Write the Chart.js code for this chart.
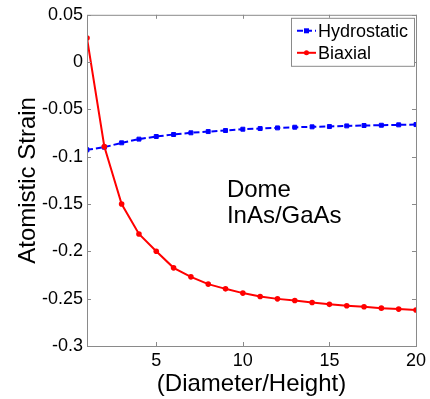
<!DOCTYPE html>
<html>
<head>
<meta charset="utf-8">
<script src="https://cdn.jsdelivr.net/npm/chart.js@4/dist/chart.umd.min.js"></script>
<style>
  html, body { margin: 0; padding: 0; background: #fff; }
  #wrap { width: 430px; height: 399px; position: relative; }
</style>
</head>
<body>
<div id="wrap"><canvas id="c" width="430" height="399"></canvas></div>
<script>
// values
const diameterRatio = [1, 2, 3, 4, 5, 6, 7, 8, 9, 10, 11, 12, 13, 14, 15, 16, 17, 18, 19, 20];
const hydrostatic = [-0.0927, -0.0899, -0.0853, -0.0814, -0.0786, -0.0765, -0.0747, -0.0734, -0.0723, -0.0709,
                     -0.0702, -0.0695, -0.0688, -0.0684, -0.0681, -0.0674, -0.0670, -0.0667, -0.0663, -0.0660];
const biaxial = [0.0254, -0.0891, -0.1500, -0.1816, -0.1998, -0.2174, -0.2269, -0.2346, -0.2396, -0.2441,
                 -0.2477, -0.2502, -0.2519, -0.2540, -0.2560, -0.2575, -0.2586, -0.2600, -0.2610, -0.2620];
const xTicks = [5, 10, 15, 20];
const yTicks = [0.05, 0, -0.05, -0.1, -0.15, -0.2, -0.25, -0.3];
const noteLines = ["Dome", "InAs/GaAs"];

const FONT = "'Liberation Sans', Arial, sans-serif";
const AXIS_GREY = "#8a8a8a";

const pts = (ys) => ys.map((y, i) => ({ x: diameterRatio[i], y }));

// frame box + inward ticks (matlab-ish axes)
const frame = {
  id: "frame",
  afterDatasetsDraw(chart) {
    const { ctx, chartArea: a, scales: { x, y } } = chart;
    ctx.save();
    ctx.strokeStyle = AXIS_GREY;
    ctx.lineWidth = 1;
    ctx.strokeRect(a.left + 0.5, a.top + 0.5, a.right - a.left, a.bottom - a.top);
    ctx.beginPath();
    for (const t of xTicks) {
      const px = Math.round(x.getPixelForValue(t)) + 0.5;
      ctx.moveTo(px, a.bottom); ctx.lineTo(px, a.bottom - 4);
      ctx.moveTo(px, a.top); ctx.lineTo(px, a.top + 4);
    }
    for (const t of yTicks) {
      const py = Math.round(y.getPixelForValue(t)) + 0.5;
      ctx.moveTo(a.left, py); ctx.lineTo(a.left + 4, py);
      ctx.moveTo(a.right, py); ctx.lineTo(a.right - 4, py);
    }
    ctx.stroke();
    ctx.restore();
  }
};

// legend box inside the axes, top right
const boxLegend = {
  id: "boxLegend",
  afterDraw(chart) {
    const { ctx, chartArea: a } = chart;
    const w = 123, h = 48;
    const bx = a.right - w - 2, by = a.top + 3;
    ctx.save();
    ctx.fillStyle = "#fff";
    ctx.fillRect(bx, by, w, h);
    ctx.strokeStyle = AXIS_GREY;
    ctx.lineWidth = 1;
    ctx.strokeRect(bx + 0.5, by + 0.5, w, h);
    ctx.font = "18px " + FONT;
    ctx.textBaseline = "middle";
    chart.data.datasets.forEach((ds, i) => {
      const cy = by + 13 + i * 22;
      const x0 = bx + 6, x1 = bx + 25;
      ctx.strokeStyle = ds.borderColor;
      ctx.lineWidth = 2;
      ctx.setLineDash(ds.borderDash || []);
      ctx.beginPath(); ctx.moveTo(x0, cy); ctx.lineTo(x1, cy); ctx.stroke();
      ctx.setLineDash([]);
      ctx.fillStyle = ds.borderColor;
      const mx = (x0 + x1) / 2;
      if (ds.pointStyle === "rect") ctx.fillRect(mx - 2.5, cy - 2.5, 5, 5);
      else { ctx.beginPath(); ctx.arc(mx, cy, 2.5, 0, Math.PI * 2); ctx.fill(); }
      ctx.fillStyle = "#000";
      ctx.fillText(ds.label, x1 + 2, cy + 1);
    });
    ctx.restore();
  }
};

// "Dome / InAs/GaAs" note, placed in data coordinates
const note = {
  id: "note",
  afterDraw(chart) {
    const { ctx, scales: { x, y } } = chart;
    ctx.save();
    ctx.font = "24px " + FONT;
    ctx.fillStyle = "#000";
    ctx.textBaseline = "alphabetic";
    const px = x.getPixelForValue(9.08);
    ctx.fillText(noteLines[0], px, y.getPixelForValue(-0.143));
    ctx.fillText(noteLines[1], px, y.getPixelForValue(-0.1705));
    ctx.restore();
  }
};

new Chart(document.getElementById("c"), {
  type: "line",
  data: {
    datasets: [
      {
        label: "Hydrostatic",
        data: pts(hydrostatic),
        borderColor: "#0000ff",
        backgroundColor: "#0000ff",
        borderWidth: 2,
        borderDash: [6, 3],
        pointStyle: "rect",
        pointRadius: 2.8,
        pointBorderWidth: 1,
        tension: 0,
        order: 2
      },
      {
        label: "Biaxial",
        data: pts(biaxial),
        borderColor: "#ff0000",
        backgroundColor: "#ff0000",
        borderWidth: 2,
        pointStyle: "circle",
        pointRadius: 2.8,
        pointBorderWidth: 0,
        tension: 0,
        order: 1
      }
    ]
  },
  options: {
    responsive: false,
    animation: false,
    layout: { padding: { left: 0, right: 11, top: 14, bottom: 0 } },
    plugins: { legend: { display: false }, tooltip: { enabled: false } },
    scales: {
      x: {
        type: "linear",
        min: 1,
        max: 20,
        afterBuildTicks: (s) => { s.ticks = xTicks.map((v) => ({ value: v })); },
        afterFit: (s) => { s.height = 53; },
        grid: { display: false, drawTicks: false },
        border: { display: false },
        ticks: { color: "#000", font: { family: FONT, size: 18 }, padding: 4, maxRotation: 0 },
        title: {
          display: true,
          text: "(Diameter/Height)",
          color: "#000",
          font: { family: FONT, size: 24 },
          padding: { top: 0, bottom: 0 }
        }
      },
      y: {
        type: "linear",
        min: -0.3,
        max: 0.05,
        afterBuildTicks: (s) => { s.ticks = yTicks.map((v) => ({ value: v })); },
        afterFit: (s) => { s.width = 87; },
        grid: { display: false, drawTicks: false },
        border: { display: false },
        ticks: {
          color: "#000",
          font: { family: FONT, size: 18 },
          padding: 4,
          callback: (v) => String(parseFloat(Number(v).toFixed(2)))
        },
        title: {
          display: true,
          text: "Atomistic Strain",
          color: "#000",
          font: { family: FONT, size: 24 },
          padding: { top: 14, bottom: 0 }
        }
      }
    }
  },
  plugins: [frame, note, boxLegend]
});
</script>
</body>
</html>
